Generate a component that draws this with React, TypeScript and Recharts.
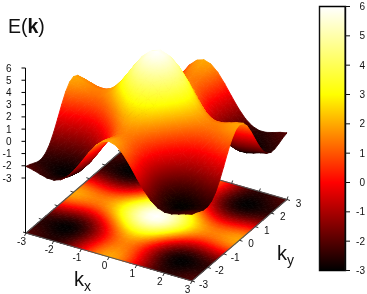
import { Bar, BarChart, Scatter, ScatterChart, XAxis, YAxis } from "recharts"

const WIDTH = 367
const HEIGHT = 294
const FONT = "'Liberation Sans', Arial, sans-serif"

const kValues = [-3, -2.75, -2.5, -2.25, -2, -1.75, -1.5, -1.25, -1, -0.75, -0.5, -0.25, 0, 0.25, 0.5, 0.75, 1, 1.25, 1.5, 1.75, 2, 2.25, 2.5, 2.75, 3]
const axisTicks = [-3, -2, -1, 0, 1, 2, 3]
const energyTicks = [-3, -2, -1, 0, 1, 2, 3, 4, 5, 6]

// E, one row per ky step
const r12 = [-2.04, -2.16, -2.34, -2.49, -2.51, -2.31, -1.87, -1.19, -0.36, 0.51, 1.28, 1.8, 1.98, 1.8, 1.28, 0.51, -0.36, -1.19, -1.87, -2.31, -2.51, -2.49, -2.34, -2.16, -2.04]
const r11 = [-2.16, -2.28, -2.46, -2.61, -2.63, -2.43, -1.99, -1.31, -0.48, 0.39, 1.16, 1.68, 1.86, 1.68, 1.16, 0.39, -0.48, -1.31, -1.99, -2.43, -2.63, -2.61, -2.46, -2.28, -2.16]
const r10 = [-2.34, -2.46, -2.64, -2.79, -2.81, -2.61, -2.17, -1.49, -0.66, 0.21, 0.98, 1.5, 1.68, 1.5, 0.98, 0.21, -0.66, -1.49, -2.17, -2.61, -2.81, -2.79, -2.64, -2.46, -2.34]
const r9 = [-2.49, -2.61, -2.79, -2.94, -2.96, -2.76, -2.32, -1.64, -0.81, 0.06, 0.83, 1.35, 1.53, 1.35, 0.83, 0.06, -0.81, -1.64, -2.32, -2.76, -2.96, -2.94, -2.79, -2.61, -2.49]
const r8 = [-2.51, -2.63, -2.81, -2.96, -2.98, -2.78, -2.34, -1.66, -0.83, 0.04, 0.81, 1.33, 1.51, 1.33, 0.81, 0.04, -0.83, -1.66, -2.34, -2.78, -2.98, -2.96, -2.81, -2.63, -2.51]
const r7 = [-2.31, -2.43, -2.61, -2.76, -2.78, -2.58, -2.14, -1.46, -0.63, 0.24, 1.01, 1.53, 1.71, 1.53, 1.01, 0.24, -0.63, -1.46, -2.14, -2.58, -2.78, -2.76, -2.61, -2.43, -2.31]
const r6 = [-1.87, -1.99, -2.17, -2.32, -2.34, -2.14, -1.7, -1.02, -0.19, 0.68, 1.45, 1.97, 2.15, 1.97, 1.45, 0.68, -0.19, -1.02, -1.7, -2.14, -2.34, -2.32, -2.17, -1.99, -1.87]
const r5 = [-1.19, -1.31, -1.49, -1.64, -1.66, -1.46, -1.02, -0.34, 0.49, 1.36, 2.13, 2.65, 2.83, 2.65, 2.13, 1.36, 0.49, -0.34, -1.02, -1.46, -1.66, -1.64, -1.49, -1.31, -1.19]
const r4 = [-0.36, -0.48, -0.66, -0.81, -0.83, -0.63, -0.19, 0.49, 1.32, 2.19, 2.96, 3.48, 3.66, 3.48, 2.96, 2.19, 1.32, 0.49, -0.19, -0.63, -0.83, -0.81, -0.66, -0.48, -0.36]
const r3 = [0.51, 0.39, 0.21, 0.06, 0.04, 0.24, 0.68, 1.36, 2.19, 3.06, 3.83, 4.35, 4.53, 4.35, 3.83, 3.06, 2.19, 1.36, 0.68, 0.24, 0.04, 0.06, 0.21, 0.39, 0.51]
const r2 = [1.28, 1.16, 0.98, 0.83, 0.81, 1.01, 1.45, 2.13, 2.96, 3.83, 4.6, 5.12, 5.3, 5.12, 4.6, 3.83, 2.96, 2.13, 1.45, 1.01, 0.81, 0.83, 0.98, 1.16, 1.28]
const r1 = [1.8, 1.68, 1.5, 1.35, 1.33, 1.53, 1.97, 2.65, 3.48, 4.35, 5.12, 5.64, 5.82, 5.64, 5.12, 4.35, 3.48, 2.65, 1.97, 1.53, 1.33, 1.35, 1.5, 1.68, 1.8]
const r0 = [1.98, 1.86, 1.68, 1.53, 1.51, 1.71, 2.15, 2.83, 3.66, 4.53, 5.3, 5.82, 6, 5.82, 5.3, 4.53, 3.66, 2.83, 2.15, 1.71, 1.51, 1.53, 1.68, 1.86, 1.98]
const energyRows = [r12, r11, r10, r9, r8, r7, r6, r5, r4, r3, r2, r1, r0, r1, r2, r3, r4, r5, r6, r7, r8, r9, r10, r11, r12]

// black -> red -> yellow -> white
const paletteValues = [-3, 0, 3, 6]
const paletteColors = [
  [0, 0, 0],
  [255, 0, 0],
  [255, 255, 0],
  [255, 255, 255],
]

const BASE_Z = -7.5

function colorFor(value: number) {
  const v = Math.min(5.999, Math.max(-3, value))
  const seg = Math.floor((v + 3) / 3)
  const t = (v - paletteValues[seg]) / 3
  const a = paletteColors[seg]
  const b = paletteColors[seg + 1]
  const c = a.map((ch, i) => Math.round(ch + (b[i] - ch) * t))
  return `rgb(${c[0]},${c[1]},${c[2]})`
}

// oblique view of the box, in page pixels
function project(kx: number, ky: number, z: number) {
  const u = (kx + 3) / 6
  const v = (ky + 3) / 6
  return {
    x: 26 + 166 * u + 95 * v,
    y: 233 + 48 * u - 81.5 * v - (z - BASE_Z) * 12.2,
  }
}

// each mesh cell is split in two triangles so it can carry a straight colour ramp
function buildTriangles(prefix: string, flat: boolean) {
  const tris: any[] = []
  const n = kValues.length - 1
  for (let s = -n; s <= n; s++) {
    for (let j = n - 1; j >= 0; j--) {
      const i = s + j
      if (i < 0 || i >= n) continue
      const cell = [[i, j], [i + 1, j], [i + 1, j + 1], [i, j + 1]].map(([a, b]) => {
        const value = energyRows[b][a]
        return { value, ...project(kValues[a], kValues[b], flat ? BASE_Z : value) }
      })
      // back triangle first, the corner nearest the viewer is cell[1]
      const pair = [[cell[0], cell[2], cell[3]], [cell[0], cell[1], cell[2]]]
      pair.forEach((corners, t) => {
        tris.push({
          id: `${prefix}${i}-${j}-${t}`,
          x: (corners[0].x + corners[1].x + corners[2].x) / 3,
          y: (corners[0].y + corners[1].y + corners[2].y) / 3,
          corners,
        })
      })
    }
  }
  return tris
}

const floorTriangles = buildTriangles("f", true)
const surfaceTriangles = buildTriangles("s", false)

const floorEdges = [
  project(-3, 3, BASE_Z),
  project(3, 3, BASE_Z),
  project(3, -3, BASE_Z),
  project(-3, -3, BASE_Z),
  project(-3, 3, BASE_Z),
]

const kxFrontTicks = axisTicks.map((k) => ({ ...project(k, -3, BASE_Z), label: k, dx: -1.5, dy: 3, lx: -4.5, ly: 11.5 }))
const kyFrontTicks = axisTicks.map((k) => ({ ...project(3, k, BASE_Z), label: k, dx: 3, dy: 1, lx: 11.5, ly: 7 }))
const kxBackTicks = axisTicks.map((k) => ({ ...project(k, 3, BASE_Z), dx: 1, dy: -3 }))
const kyBackTicks = axisTicks.map((k) => ({ ...project(-3, k, BASE_Z), dx: -3, dy: -1 }))

const TriangleShape = (props: any) => {
  const { cx, cy, payload } = props
  const [a, b, c] = payload.corners
  const ox = cx - payload.x
  const oy = cy - payload.y
  const points = payload.corners.map((p: any) => `${p.x + ox},${p.y + oy}`).join(" ")

  const e1x = b.x - a.x
  const e1y = b.y - a.y
  const e2x = c.x - a.x
  const e2y = c.y - a.y
  const d1 = b.value - a.value
  const d2 = c.value - a.value
  const det = e1x * e2y - e1y * e2x
  const low = Math.min(a.value, b.value, c.value)
  const high = Math.max(a.value, b.value, c.value)

  if (Math.abs(det) < 0.01 || high - low < 0.01) {
    const flat = colorFor((a.value + b.value + c.value) / 3)
    return <polygon points={points} fill={flat} stroke={flat} strokeWidth={0.9} />
  }

  const gx = (d1 * e2y - d2 * e1y) / det
  const gy = (e1x * d2 - e2x * d1) / det
  const g2 = gx * gx + gy * gy
  const x1 = a.x + ox + (gx * (low - a.value)) / g2
  const y1 = a.y + oy + (gy * (low - a.value)) / g2
  const x2 = a.x + ox + (gx * (high - a.value)) / g2
  const y2 = a.y + oy + (gy * (high - a.value)) / g2
  const stops = [low, ...paletteValues.filter((v) => v > low && v < high), high]
  const url = `url(#${payload.id})`

  return (
    <g>
      <linearGradient id={payload.id} gradientUnits="userSpaceOnUse" x1={x1} y1={y1} x2={x2} y2={y2}>
        {stops.map((v) => (
          <stop key={v} offset={(v - low) / (high - low)} stopColor={colorFor(v)} />
        ))}
      </linearGradient>
      <polygon points={points} fill={url} stroke={url} strokeWidth={0.9} />
    </g>
  )
}

const TickShape = (props: any) => {
  const { cx, cy, payload } = props
  return (
    <g>
      <line x1={cx} y1={cy} x2={cx + payload.dx} y2={cy + payload.dy} stroke="#333" strokeWidth={1} />
      {payload.label !== undefined && (
        <text x={cx + payload.lx} y={cy + payload.ly} textAnchor="middle" fontSize={10} fontFamily={FONT} fill="#111">
          {payload.label}
        </text>
      )}
    </g>
  )
}

const BarTick = (props: any) => (
  <text x={365} y={props.y + 3.5} textAnchor="end" fontSize={10} fontFamily={FONT} fill="#111">
    {props.payload.value}
  </text>
)

const BoxTick = (props: any) => (
  <text x={11.5} y={props.y + 3.5} textAnchor="end" fontSize={10} fontFamily={FONT} fill="#111">
    {props.payload.value}
  </text>
)

const NoPoint = () => null

const layer: React.CSSProperties = { position: "absolute", left: 0, top: 0 }

export default function App() {
  return (
    <div style={{ position: "absolute", left: 0, top: 0, width: WIDTH, height: HEIGHT, background: "#fff", filter: "blur(0.35px)" }}>
      <div style={layer}>
        <ScatterChart width={WIDTH} height={HEIGHT} margin={{ top: 0, right: 0, bottom: 0, left: 0 }}>
          <XAxis type="number" dataKey="x" domain={[0, WIDTH]} hide />
          <YAxis type="number" dataKey="y" domain={[0, HEIGHT]} reversed hide />
          <Scatter data={floorTriangles} shape={TriangleShape} isAnimationActive={false} />
          <Scatter data={floorEdges} shape={NoPoint} line={{ stroke: "#555", strokeWidth: 1.1 }} isAnimationActive={false} />
          <Scatter data={kxFrontTicks} shape={TickShape} isAnimationActive={false} />
          <Scatter data={kyFrontTicks} shape={TickShape} isAnimationActive={false} />
          <Scatter data={kxBackTicks} shape={TickShape} isAnimationActive={false} />
          <Scatter data={kyBackTicks} shape={TickShape} isAnimationActive={false} />
          <Scatter data={surfaceTriangles} shape={TriangleShape} isAnimationActive={false} />
          <text x={8} y={33} fontSize={19.5} fontFamily={FONT} fill="#111">
            E(<tspan fontWeight="bold">k</tspan>)
          </text>
          <text x={74} y={286} fontSize={20} fontFamily={FONT} fill="#111">
            k<tspan fontSize={14} dy={5}>x</tspan>
          </text>
          <text x={277} y={260} fontSize={20} fontFamily={FONT} fill="#111">
            k<tspan fontSize={14} dy={5}>y</tspan>
          </text>
        </ScatterChart>
      </div>

      {/* vertical energy axis of the box */}
      <div style={layer}>
        <BarChart width={80} height={HEIGHT} data={[{ name: "z", range: [-3, 6] }]} margin={{ top: 68, right: 24.5, bottom: 61, left: 0 }}>
          <XAxis dataKey="name" hide />
          <YAxis
            type="number"
            domain={[BASE_Z, 6]}
            ticks={energyTicks}
            interval={0}
            width={25.5}
            tickSize={4}
            stroke="#000"
            tick={BoxTick}
          />
          <Bar dataKey="range" fill="none" isAnimationActive={false} />
        </BarChart>
      </div>

      {/* colour box */}
      <div style={layer}>
        <BarChart
          width={WIDTH}
          height={HEIGHT}
          data={[{ name: "E", range: [-3, 6] }]}
          margin={{ top: 6.5, right: 2, bottom: 23.5, left: 314.5 }}
          barCategoryGap={0}
        >
          <defs>
            <linearGradient id="energyBar" x1="0" y1="1" x2="0" y2="0">
              {paletteValues.map((v, i) => (
                <stop key={v} offset={i / 3} stopColor={colorFor(v)} />
              ))}
            </linearGradient>
          </defs>
          <XAxis dataKey="name" hide />
          <YAxis yAxisId="left" type="number" domain={[-3, 6]} ticks={energyTicks} interval={0} width={5} tickSize={5} tick={false} stroke="#111" />
          <YAxis
            yAxisId="right"
            orientation="right"
            type="number"
            domain={[-3, 6]}
            ticks={energyTicks}
            interval={0}
            width={20}
            tickSize={5}
            stroke="#111"
            tick={BarTick}
          />
          <Bar yAxisId="right" dataKey="range" fill="url(#energyBar)" stroke="#000" strokeWidth={1.4} isAnimationActive={false} />
        </BarChart>
      </div>
    </div>
  )
}
